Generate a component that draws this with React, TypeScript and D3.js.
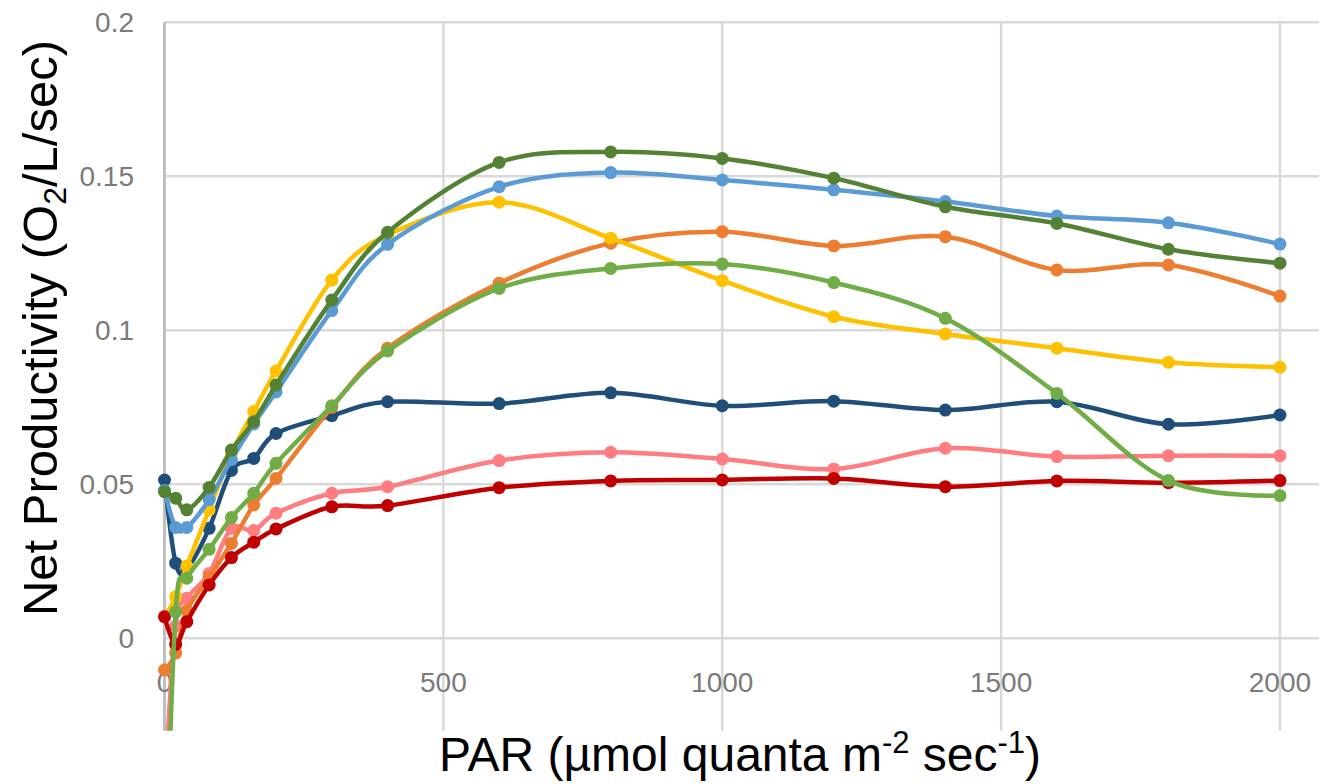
import React from 'react';
import * as d3 from 'd3';

// PAR levels (x values)
const par = [0, 20, 40, 80, 120, 160, 200, 300, 400, 600, 800, 1000, 1200, 1400, 1600, 1800, 2000];

// net productivity per run
const red = [0.007, -0.002, 0.0054, 0.0173, 0.0262, 0.0312, 0.0355, 0.0427, 0.0431, 0.0489, 0.0511, 0.0514, 0.0519, 0.0492, 0.0511, 0.0505, 0.0512];
const pink = [-0.05, 0.004, 0.013, 0.021, 0.0357, 0.035, 0.0406, 0.0471, 0.0492, 0.0577, 0.0604, 0.0582, 0.055, 0.0617, 0.059, 0.0593, 0.0593];
const darkBlue = [0.0514, 0.0244, 0.0225, 0.0357, 0.0545, 0.0584, 0.0665, 0.0723, 0.0768, 0.0762, 0.0797, 0.0755, 0.077, 0.0741, 0.0768, 0.0695, 0.0725];
const orange = [-0.0103, -0.0048, 0.009, 0.0198, 0.0308, 0.0433, 0.0519, 0.075, 0.0942, 0.1153, 0.1283, 0.132, 0.1274, 0.1304, 0.1196, 0.1212, 0.1111];
const yellow = [0.007, 0.0135, 0.0235, 0.0417, 0.06, 0.0736, 0.0868, 0.1163, 0.131, 0.1416, 0.1299, 0.1161, 0.1044, 0.0988, 0.0942, 0.0896, 0.088];
const lightBlue = [0.048, 0.036, 0.036, 0.045, 0.058, 0.0696, 0.08, 0.1064, 0.1279, 0.1466, 0.1512, 0.1488, 0.1456, 0.1418, 0.1371, 0.1349, 0.128];
const darkGreen = [0.0476, 0.0455, 0.0417, 0.049, 0.0611, 0.0703, 0.0822, 0.1098, 0.1318, 0.1545, 0.1579, 0.1558, 0.1494, 0.1401, 0.1347, 0.1263, 0.1218];
const lightGreen = [-0.09, 0.0086, 0.0195, 0.0289, 0.0392, 0.0471, 0.0568, 0.0755, 0.0933, 0.1136, 0.1201, 0.1215, 0.1155, 0.1039, 0.0795, 0.0512, 0.0463];

const xTicks = [0, 500, 1000, 1500, 2000];
const yTicks = [0, 0.05, 0.1, 0.15, 0.2];

const series = [
  { name: 'pink', values: pink, color: '#FF7C80' },
  { name: 'darkBlue', values: darkBlue, color: '#1F4E79' },
  { name: 'orange', values: orange, color: '#ED7D31' },
  { name: 'yellow', values: yellow, color: '#FFC000' },
  { name: 'red', values: red, color: '#C00000' },
  { name: 'lightBlue', values: lightBlue, color: '#5B9BD5' },
  { name: 'darkGreen', values: darkGreen, color: '#548235' },
  { name: 'lightGreen', values: lightGreen, color: '#70AD47' },
];

const width = 1325;
const height = 784;
const font = '"Liberation Sans", Arial, sans-serif';

export default function App() {
  const x = d3.scaleLinear().domain([0, 2070]).range([164.5, 1319]);
  const y = d3.scaleLinear().domain([-0.03, 0.2]).range([730.7, 22.3]);

  const line = d3.line<[number, number]>()
    .x(d => x(d[0]))
    .y(d => y(d[1]))
    .curve(d3.curveCatmullRom.alpha(0));

  const top = y(0.2);
  const bottom = y(-0.03);

  return (
    <svg width={width} height={height} style={{ position: 'absolute', left: 0, top: 0, background: '#fff' }}>
      <defs>
        <clipPath id="plot">
          <rect x={x(0) - 10} y={top - 10} width={x(2070) - x(0) + 20} height={bottom - top + 10} />
        </clipPath>
      </defs>

      {/* gridlines */}
      {yTicks.map(t => (
        <line key={'gy' + t} x1={x(0)} x2={x(2070)} y1={y(t)} y2={y(t)} stroke="#d9d9d9" strokeWidth={2.5} />
      ))}
      {xTicks.map(t => (
        <line key={'gx' + t} x1={x(t)} x2={x(t)} y1={top} y2={bottom}
          stroke={t === 0 ? '#bfbfbf' : '#d9d9d9'} strokeWidth={t === 0 ? 3 : 2.5} />
      ))}

      {/* tick labels */}
      {yTicks.map(t => (
        <text key={'ly' + t} x={134} y={y(t)} dy="0.35em" textAnchor="end"
          fontFamily={font} fontSize={28} fill="#7a7a7a">{t === 0 ? '0' : String(t)}</text>
      ))}
      {xTicks.map(t => (
        <text key={'lx' + t} x={x(t)} y={692} textAnchor="middle"
          fontFamily={font} fontSize={28} fill="#7a7a7a">{t}</text>
      ))}

      {/* series */}
      <g clipPath="url(#plot)">
        {series.map(s => {
          const pts = par.map((p, i) => [p, s.values[i]] as [number, number]);
          return (
            <g key={s.name}>
              <path d={line(pts) || ''} fill="none" stroke={s.color} strokeWidth={4.5} strokeLinejoin="round" />
              {pts.map((p, i) => (
                <circle key={i} cx={x(p[0])} cy={y(p[1])} r={6.5} fill={s.color} />
              ))}
            </g>
          );
        })}
      </g>

      {/* axis titles */}
      <text transform={`translate(57, 328) rotate(-90)`} textAnchor="middle" fontFamily={font} fontSize={49} fill="#000">
        Net Productivity (O<tspan fontSize={32} dy={9}>2</tspan><tspan dy={-9}>/L/sec)</tspan>
      </text>
      <text x={740} y={771} textAnchor="middle" fontFamily={font} fontSize={48} fill="#000">
        PAR (µmol quanta m<tspan fontSize={31} dy={-18}>-2</tspan><tspan dy={18}> sec</tspan><tspan fontSize={31} dy={-18}>-1</tspan><tspan dy={18}>)</tspan>
      </text>
    </svg>
  );
}
